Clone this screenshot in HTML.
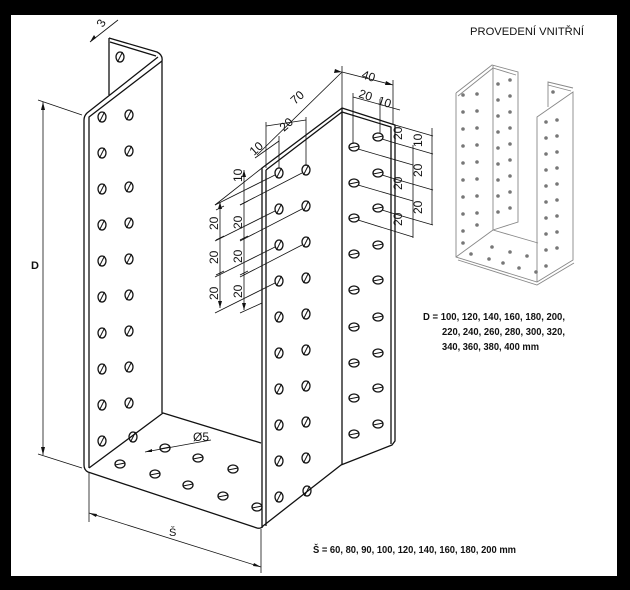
<!DOCTYPE html>
<html><head><meta charset="utf-8"><style>
html,body{margin:0;padding:0;background:#000;}
svg{display:block;}
text{font-family:"Liberation Sans",sans-serif;}
</style></head><body>
<svg width="630" height="590" viewBox="0 0 630 590" xmlns="http://www.w3.org/2000/svg">
<defs>
<g id="h"><ellipse cx="0" cy="0" rx="4" ry="5" fill="none" stroke="#111" stroke-width="1.3"/><line x1="-2.5" y1="5" x2="2.5" y2="-5" stroke="#111" stroke-width="1"/></g>
<g id="b"><ellipse cx="0" cy="0" rx="5" ry="4" fill="none" stroke="#111" stroke-width="1.3"/><line x1="-5" y1="1" x2="5" y2="-1" stroke="#111" stroke-width="1"/></g>
<g id="g"><circle r="1.8" fill="#777"/></g>
</defs>
<rect x="11" y="15" width="606" height="561" fill="#fff"/>
<g fill="none" stroke="#111" stroke-width="1.3" stroke-linejoin="round">
<path d="M109,38 L157,52 Q163,55 162,61 L162,413"/>
<path d="M110,42 L156,56"/>
<line x1="109" y1="38" x2="109" y2="95"/>
<path d="M158,57 L87,113 Q84,116 84,120 L84,465 Q84,470 88,472 L257,528 Q261,529 263,526 L341,465 L392,445 L395,441 L395,125 L342,108 L262,168 L262,528"/>
<path d="M162,61 L89,117 L89,468"/>
<line x1="266" y1="170" x2="266" y2="526"/>
<path d="M342,112 L266,170"/>
<path d="M342,112 L391,127 L391,444"/>
<line x1="342" y1="108" x2="342" y2="465"/>
<path d="M89,468 L163,413 L261,443"/>
</g>
<g>
<use href="#h" x="102" y="117"/><use href="#h" x="102" y="153"/><use href="#h" x="102" y="189"/><use href="#h" x="102" y="225"/><use href="#h" x="102" y="261"/><use href="#h" x="102" y="297"/><use href="#h" x="102" y="333"/><use href="#h" x="102" y="369"/><use href="#h" x="102" y="405"/><use href="#h" x="102" y="441"/>
<use href="#h" x="129" y="115"/><use href="#h" x="129" y="151"/><use href="#h" x="129" y="187"/><use href="#h" x="129" y="223"/><use href="#h" x="129" y="259"/><use href="#h" x="129" y="295"/><use href="#h" x="129" y="331"/><use href="#h" x="129" y="367"/><use href="#h" x="129" y="403"/><use href="#h" x="133" y="437"/>
<use href="#h" x="120" y="57"/>
<use href="#h" x="279" y="173"/><use href="#h" x="279" y="209"/><use href="#h" x="279" y="245"/><use href="#h" x="279" y="281"/><use href="#h" x="279" y="317"/><use href="#h" x="279" y="353"/><use href="#h" x="279" y="389"/><use href="#h" x="279" y="425"/><use href="#h" x="279" y="461"/><use href="#h" x="279" y="497"/>
<use href="#h" x="306" y="170"/><use href="#h" x="306" y="206"/><use href="#h" x="306" y="242"/><use href="#h" x="306" y="278"/><use href="#h" x="306" y="314"/><use href="#h" x="306" y="350"/><use href="#h" x="306" y="386"/><use href="#h" x="306" y="422"/><use href="#h" x="306" y="458"/><use href="#h" x="307" y="491"/>
<use href="#b" x="354" y="147"/><use href="#b" x="354" y="183"/><use href="#b" x="354" y="218"/><use href="#b" x="354" y="254"/><use href="#b" x="354" y="290"/><use href="#b" x="354" y="327"/><use href="#b" x="354" y="363"/><use href="#b" x="354" y="398"/><use href="#b" x="354" y="434"/>
<use href="#b" x="378" y="137"/><use href="#b" x="378" y="173"/><use href="#b" x="378" y="208"/><use href="#b" x="378" y="245"/><use href="#b" x="378" y="280"/><use href="#b" x="378" y="317"/><use href="#b" x="378" y="353"/><use href="#b" x="378" y="388"/><use href="#b" x="378" y="424"/>
<use href="#b" x="165" y="448"/><use href="#b" x="198" y="458"/><use href="#b" x="233" y="469"/><use href="#b" x="120" y="464"/><use href="#b" x="155" y="474"/><use href="#b" x="188" y="485"/><use href="#b" x="223" y="496"/><use href="#b" x="257" y="507"/>
</g>
<g stroke="#111" stroke-width="0.8" fill="none">
<line x1="43" y1="102" x2="43" y2="455"/>
<line x1="38" y1="100" x2="82" y2="115"/><line x1="38" y1="454" x2="82" y2="468"/>
<line x1="89" y1="472" x2="89" y2="522"/><line x1="261" y1="529" x2="261" y2="573"/>
<line x1="89" y1="513" x2="261" y2="567"/>
<line x1="90" y1="42" x2="118" y2="20"/>
<line x1="145" y1="452" x2="211" y2="440"/>
<line x1="342" y1="66" x2="342" y2="108"/><line x1="393" y1="80" x2="393" y2="125"/>
<line x1="342" y1="72" x2="393" y2="85"/>
<line x1="353" y1="93" x2="353" y2="144"/><line x1="380" y1="99" x2="380" y2="133"/>
<line x1="353" y1="97" x2="400" y2="110"/>
<line x1="342" y1="72" x2="257" y2="155"/>
<line x1="266" y1="122" x2="266" y2="168"/><line x1="306" y1="117" x2="306" y2="166"/><line x1="279" y1="136" x2="279" y2="168"/>
<line x1="266" y1="126" x2="306" y2="120"/>
<line x1="255" y1="158" x2="279" y2="141"/>
<line x1="220" y1="202" x2="220" y2="308"/><line x1="244" y1="170" x2="244" y2="310"/>
<line x1="216" y1="210" x2="224" y2="206"/><line x1="216" y1="240" x2="224" y2="236"/><line x1="216" y1="275" x2="224" y2="271"/>
<line x1="240" y1="205" x2="248" y2="201"/><line x1="240" y1="240" x2="248" y2="236"/><line x1="240" y1="275" x2="248" y2="271"/>
<line x1="262" y1="168" x2="215" y2="205"/>
<line x1="275" y1="175" x2="215" y2="205"/><line x1="275" y1="211" x2="215" y2="241"/><line x1="275" y1="247" x2="215" y2="277"/><line x1="275" y1="283" x2="215" y2="313"/>
<line x1="302" y1="173" x2="240" y2="205"/><line x1="302" y1="209" x2="240" y2="241"/><line x1="302" y1="245" x2="240" y2="277"/><line x1="262" y1="303" x2="240" y2="313"/>
<line x1="358" y1="149" x2="413" y2="165"/><line x1="358" y1="185" x2="413" y2="201"/><line x1="358" y1="220" x2="413" y2="237"/>
<line x1="382" y1="139" x2="395" y2="143"/><line x1="382" y1="175" x2="395" y2="179"/><line x1="382" y1="210" x2="395" y2="214"/>
<line x1="395" y1="125" x2="433" y2="136"/><line x1="395" y1="143" x2="433" y2="154"/><line x1="395" y1="179" x2="433" y2="190"/><line x1="395" y1="214" x2="433" y2="225"/>
<line x1="413" y1="145" x2="413" y2="238"/><line x1="432" y1="128" x2="432" y2="225"/>
</g>
<g fill="#111">
<path d="M43,102 l-2,8 h4z"/><path d="M43,455 l-2,-8 h4z"/>
<path d="M89,513 l8,1 l-1,3z"/><path d="M261,567 l-8,-1 l1,-3z"/>
<path d="M342,72 l-8,1 l1,-4z"/><path d="M393,85 l-8,0 l1,-4z"/>
<path d="M90,42 l4,-7 l2,3z"/><path d="M145,452 l7,-3 l0,3z"/>
<path d="M220,202 l-2,7 h4z"/><path d="M220,308 l-2,-7 h4z"/><path d="M244,170 l-2,7 h4z"/><path d="M244,310 l-2,-7 h4z"/>
</g>
<g font-size="12" fill="#111">
<text x="31" y="269" font-weight="bold" font-size="11">D</text>
<text x="169" y="536" font-size="11">Š</text>
<text x="193" y="441">Ø5</text>
<text transform="translate(103,28) rotate(-60)">3</text>
<text transform="translate(361,78) rotate(17)">40</text>
<text transform="translate(358,97) rotate(17)">20</text>
<text transform="translate(377,104) rotate(17)">10</text>
<text transform="translate(295,105) rotate(-42)">70</text>
<text transform="translate(284,132) rotate(-42)">20</text>
<text transform="translate(254,156) rotate(-42)">10</text>
<text transform="translate(218,230) rotate(-90)">20</text>
<text transform="translate(218,264) rotate(-90)">20</text>
<text transform="translate(218,300) rotate(-90)">20</text>
<text transform="translate(242,182) rotate(-90)">10</text>
<text transform="translate(242,229) rotate(-90)">20</text>
<text transform="translate(242,263) rotate(-90)">20</text>
<text transform="translate(242,298) rotate(-90)">20</text>
<text transform="translate(402,140) rotate(-90)">20</text>
<text transform="translate(402,190) rotate(-90)">20</text>
<text transform="translate(402,226) rotate(-90)">20</text>
<text transform="translate(422,147) rotate(-90)">10</text>
<text transform="translate(422,177) rotate(-90)">20</text>
<text transform="translate(422,214) rotate(-90)">20</text>
<text x="470" y="35" font-size="11" textLength="114" lengthAdjust="spacingAndGlyphs">PROVEDENÍ VNITŘNÍ</text>
<text x="423" y="320" font-size="10" font-weight="bold" textLength="142" lengthAdjust="spacingAndGlyphs">D = 100, 120, 140, 160, 180, 200,</text>
<text x="442" y="335" font-size="10" font-weight="bold" textLength="123" lengthAdjust="spacingAndGlyphs">220, 240, 260, 280, 300, 320,</text>
<text x="442" y="350" font-size="10" font-weight="bold" textLength="97" lengthAdjust="spacingAndGlyphs">340, 360, 380, 400 mm</text>
<text x="313" y="553" font-size="10" font-weight="bold" textLength="203" lengthAdjust="spacingAndGlyphs">Š = 60, 80, 90, 100, 120, 140, 160, 180, 200 mm</text>
</g>
<g fill="none" stroke="#888" stroke-width="0.9">
<path d="M456,93 L492,65 L518,72 L518,222 L493,230"/>
<path d="M458,96 L493,68 L516,75"/>
<line x1="493" y1="65" x2="493" y2="230"/>
<path d="M456,93 L456,257 L537,282 L573,260 L573,92 L537,117 L537,282"/>
<path d="M458,260 L537,285 L574,263"/>
<path d="M493,230 L456,257"/><path d="M493,230 L538,243"/>
<path d="M548,107 L548,82 L573,88"/><path d="M548,85 L571,91"/>
</g>
<g>
<use href="#g" x="463" y="95"/><use href="#g" x="463" y="112"/><use href="#g" x="463" y="129"/><use href="#g" x="463" y="146"/><use href="#g" x="463" y="163"/><use href="#g" x="463" y="180"/><use href="#g" x="463" y="197"/><use href="#g" x="463" y="214"/><use href="#g" x="463" y="231"/><use href="#g" x="463" y="243"/>
<use href="#g" x="477" y="94"/><use href="#g" x="477" y="111"/><use href="#g" x="477" y="128"/><use href="#g" x="477" y="145"/><use href="#g" x="477" y="162"/><use href="#g" x="477" y="179"/><use href="#g" x="477" y="196"/><use href="#g" x="477" y="213"/><use href="#g" x="477" y="225"/>
<use href="#g" x="498" y="84"/><use href="#g" x="498" y="100"/><use href="#g" x="498" y="116"/><use href="#g" x="498" y="132"/><use href="#g" x="498" y="148"/><use href="#g" x="498" y="164"/><use href="#g" x="498" y="180"/><use href="#g" x="498" y="196"/><use href="#g" x="498" y="212"/>
<use href="#g" x="510" y="80"/><use href="#g" x="510" y="96"/><use href="#g" x="510" y="112"/><use href="#g" x="510" y="128"/><use href="#g" x="510" y="144"/><use href="#g" x="510" y="160"/><use href="#g" x="510" y="176"/><use href="#g" x="510" y="192"/><use href="#g" x="510" y="208"/>
<use href="#g" x="546" y="122"/><use href="#g" x="546" y="138"/><use href="#g" x="546" y="154"/><use href="#g" x="546" y="170"/><use href="#g" x="546" y="186"/><use href="#g" x="546" y="202"/><use href="#g" x="546" y="218"/><use href="#g" x="546" y="234"/><use href="#g" x="546" y="250"/><use href="#g" x="546" y="266"/>
<use href="#g" x="557" y="120"/><use href="#g" x="557" y="136"/><use href="#g" x="557" y="152"/><use href="#g" x="557" y="168"/><use href="#g" x="557" y="184"/><use href="#g" x="557" y="200"/><use href="#g" x="557" y="216"/><use href="#g" x="557" y="232"/><use href="#g" x="557" y="248"/>
<use href="#g" x="553" y="92"/>
<use href="#g" x="492" y="247"/><use href="#g" x="510" y="252"/><use href="#g" x="527" y="256"/><use href="#g" x="471" y="254"/><use href="#g" x="489" y="259"/><use href="#g" x="503" y="263"/><use href="#g" x="519" y="268"/><use href="#g" x="536" y="272"/>
</g>
</svg>
</body></html>
